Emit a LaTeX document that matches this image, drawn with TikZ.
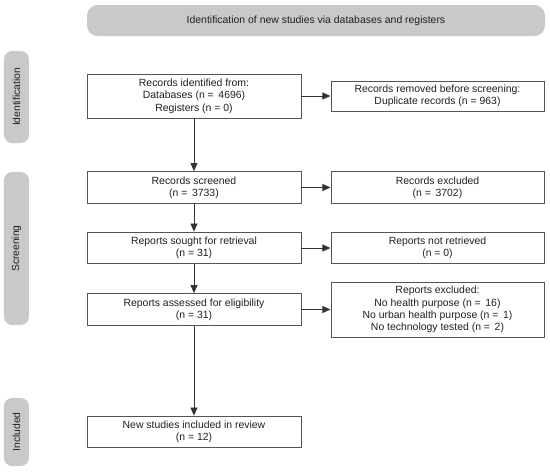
\documentclass[tikz,border=0pt]{standalone}
\usepackage{fontspec}
\setmainfont{Liberation Sans}
\usepackage{tikz}
\usetikzlibrary{positioning}
\usetikzlibrary{arrows.meta}
\definecolor{boxGray}{gray}{0.33}
\definecolor{lineGray}{gray}{0.2}
\definecolor{barGray}{gray}{0.79}
\definecolor{textGray}{gray}{0.12}
\newcommand{\boxfont}{\fontsize{8.9}{10.5}\selectfont\color{textGray}}
\newcommand{\barfont}{\fontsize{8.8}{10.5}\selectfont\color{textGray}}

\begin{document}
\begin{tikzpicture}
	\tikzset{>={Triangle[length=7pt,width=6pt]}}
	\useasboundingbox (0,0) rectangle (16.5,-14.16);
	\tikzstyle{flowBox}=[draw=boxGray, line width=0.8pt, minimum width=6.42cm, minimum height=0.95cm, align=center, font=\boxfont, inner sep=1pt]
	\tikzstyle{phaseBar}=[fill=barGray, rounded corners=7, minimum height=0.75cm, rotate=90, font=\barfont, inner sep=1pt]
	\tikzstyle{flowArrow}=[draw=lineGray, line width=0.8pt, ->]

	% Banner on top
	\node (rectBanner) at (9.48,-0.615) [fill=barGray, rounded corners=9, minimum width=13.74cm, minimum height=0.93cm, font=\boxfont] {Identification of new studies via databases and registers};

	% Phase bars on the left
	\node (barIdent) at (0.495,-2.91) [phaseBar, minimum width=2.76cm] {Identification};
	\node (barScreen) at (0.495,-7.455) [phaseBar, minimum width=4.59cm] {Screening};
	\node (barIncl) at (0.495,-12.96) [phaseBar, minimum width=2.04cm] {Included};

	% Main column
	\node (rectIdent) at (5.82,-2.88) [flowBox, minimum height=1.32cm] {Records identified from:\\Databases (n = \,4696)\\Registers (n = 0)};
	\node (rectScreen) at (5.82,-5.625) [flowBox] {Records screened\\(n = \,3733)};
	\node (rectSought) at (5.82,-7.44) [flowBox] {Reports sought for retrieval\\(n = 31)};
	\node (rectAssess) at (5.82,-9.285) [flowBox] {Reports assessed for eligibility\\(n = 31)};
	\node (rectIncl) at (5.82,-12.96) [flowBox] {New studies included in review\\(n = 12)};

	% Side column
	\node (rectRemoved) at (13.125,-2.88) [flowBox, minimum width=6.39cm, minimum height=0.9cm] {Records removed before screening:\\Duplicate records (n = 963)};
	\node (rectExcl) at (13.125,-5.625) [flowBox, minimum width=6.39cm] {Records excluded\\(n = \,3702)};
	\node (rectNotRet) at (13.125,-7.44) [flowBox, minimum width=6.39cm] {Reports not retrieved\\(n = 0)};
	\node (rectRepExcl) at (13.125,-9.285) [flowBox, minimum width=6.39cm, minimum height=1.65cm] {Reports excluded:\\No health purpose (n = \,16)\\No urban health purpose (n = \,1)\\No technology tested (n = \,2)};

	% Connectors
	\draw[flowArrow] (rectIdent) -- (rectScreen);
	\draw[flowArrow] (rectScreen) -- (rectSought);
	\draw[flowArrow] (rectSought) -- (rectAssess);
	\draw[flowArrow] (rectAssess) -- (rectIncl);
	\foreach \from / \to in {rectIdent/rectRemoved, rectScreen/rectExcl, rectSought/rectNotRet, rectAssess/rectRepExcl}
		\draw[flowArrow] (\from) -- (\to);
\end{tikzpicture}
\end{document}
